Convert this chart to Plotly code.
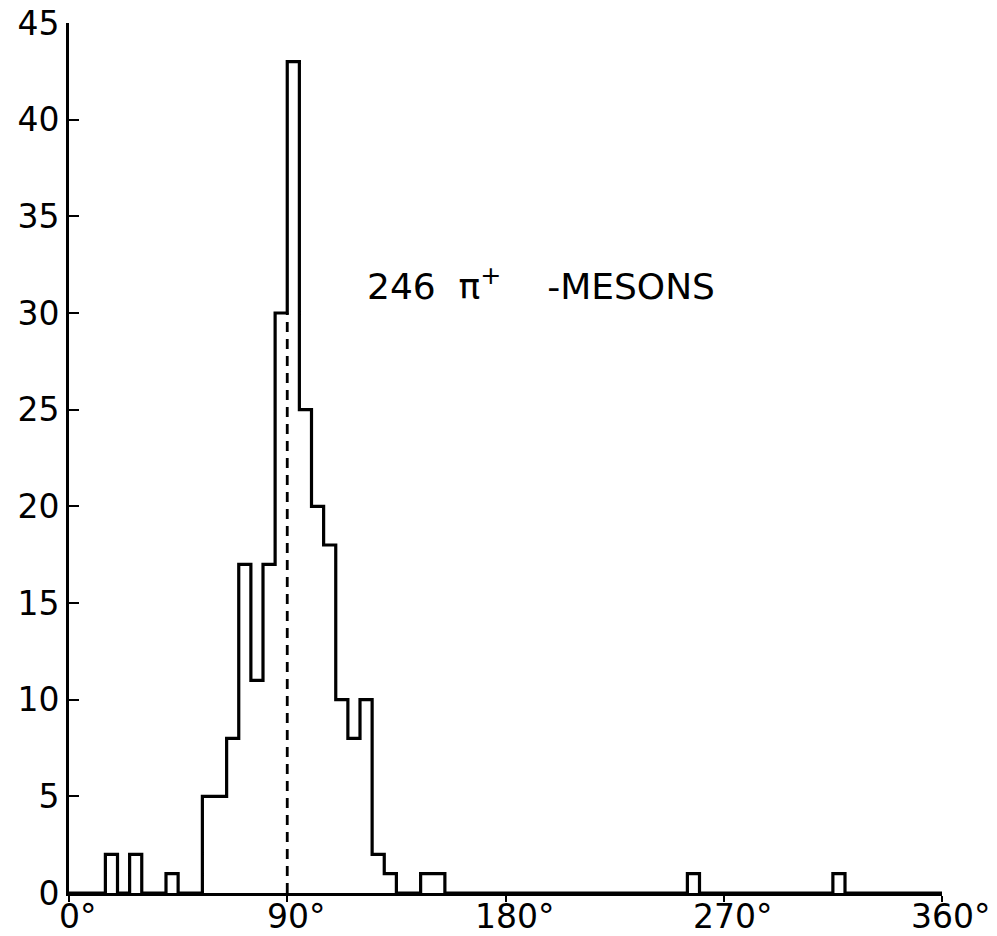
import plotly.graph_objects as go

# Histogram of pion emission angles (5-degree bins); only non-empty bins listed
BIN_WIDTH = 5
BIN_START = [15, 25, 40, 55, 60, 65, 70, 75, 80, 85, 90, 95, 100, 105, 110,
             115, 120, 125, 130, 145, 150, 255, 315]
COUNTS = [2, 2, 1, 5, 5, 8, 17, 11, 17, 30, 43, 25, 20, 18, 10,
          8, 10, 2, 1, 1, 1, 1, 1]
X_TICKS = [0, 90, 180, 270, 360]
X_TICK_LABELS = ["0°", "90°", "180°", "270°", "360°"]
Y_TICKS = [0, 5, 10, 15, 20, 25, 30, 35, 40, 45]
Y_TICK_LABELS = ["0", "5", "10", "15", "20", "25", "30", "35", "40", "45"]
REF_ANGLE = 90
LABEL = "246  π<sup>+</sup>&nbsp;&nbsp;&nbsp;&nbsp;-MESONS"

counts_by_bin = dict(zip(BIN_START, COUNTS))
xs, ys = [], []
for b in range(0, 360, BIN_WIDTH):
    xs.append(b)
    ys.append(counts_by_bin.get(b, 0))
xs.append(360)
ys.append(0)

FONT = "DejaVu Sans"

fig = go.Figure()
fig.add_trace(go.Scatter(x=xs, y=ys, mode="lines", line_shape="hv",
                         line=dict(color="black", width=3.2), hoverinfo="skip",
                         showlegend=False))

ref_top = counts_by_bin.get(REF_ANGLE - BIN_WIDTH, 0)
fig.add_trace(go.Scatter(x=[REF_ANGLE, REF_ANGLE], y=[0, ref_top], mode="lines",
                         line=dict(color="black", width=2.8, dash="10px,7px"),
                         showlegend=False, hoverinfo="skip"))

fig.add_annotation(x=122, y=31.5, xref="x", yref="y", text=LABEL,
                   showarrow=False, xanchor="left", yanchor="middle",
                   font=dict(family=FONT, size=36, color="black"))

for v, t in zip(X_TICKS, X_TICK_LABELS):
    fig.add_annotation(x=v, y=0, xref="x", yref="y", text=t, showarrow=False,
                       xanchor="center", yanchor="top", xshift=9, yshift=-5,
                       height=34, valign="middle", borderpad=0,
                       font=dict(family=FONT, size=33, color="black"))

fig.update_xaxes(range=[0, 360], tickvals=X_TICKS, showticklabels=False,
                 showgrid=False, zeroline=False, showline=True,
                 linecolor="black", linewidth=3, ticks="outside", ticklen=6,
                 tickwidth=2, tickcolor="black")
fig.update_yaxes(range=[0, 45], tickvals=Y_TICKS, ticktext=Y_TICK_LABELS,
                 showgrid=False, zeroline=False, showline=True,
                 linecolor="black", linewidth=3, ticks="inside", ticklen=10,
                 tickwidth=2, tickcolor="black",
                 tickfont=dict(family=FONT, size=33, color="black"))

fig.update_layout(width=997, height=936,
                  margin=dict(l=69, r=55, t=23, b=43, autoexpand=False),
                  paper_bgcolor="white", plot_bgcolor="white")

fig.write_html("out.html")
